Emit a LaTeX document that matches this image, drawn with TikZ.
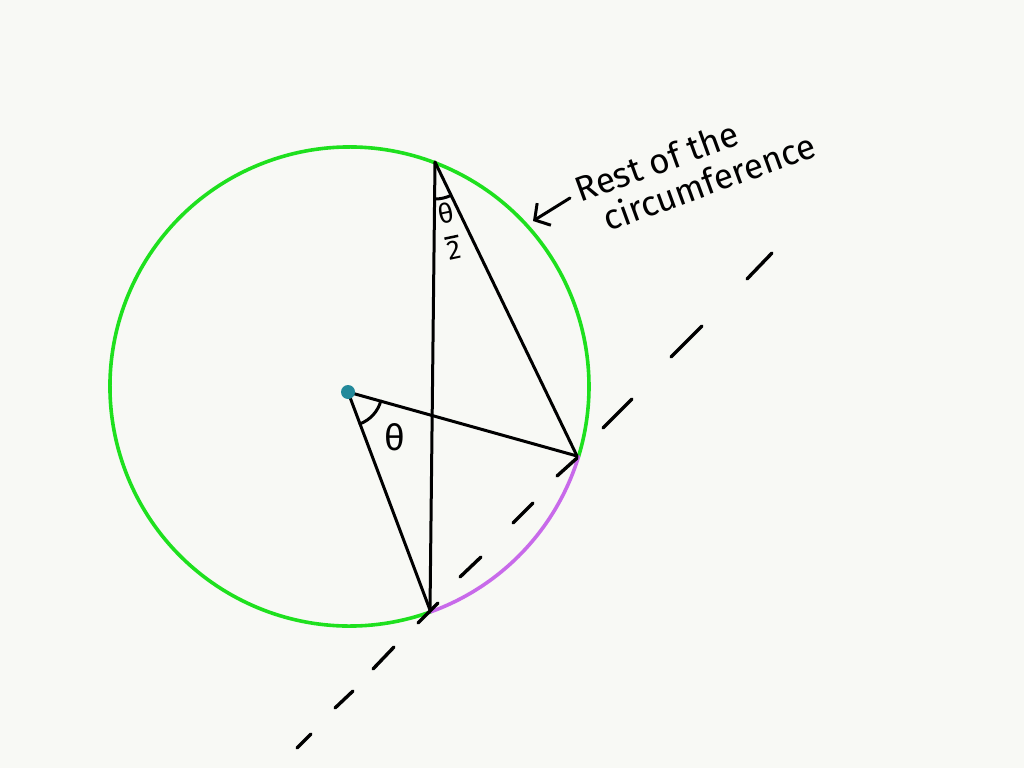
\documentclass[tikz,border=0pt]{standalone}
\usepackage{fontspec}
\setmainfont{Fira Sans}
\usetikzlibrary{arrows.meta}
\definecolor{bg}{HTML}{F8F9F5}
\definecolor{circgreen}{HTML}{1EE01E}
\definecolor{arcpurple}{HTML}{C86AEA}
\definecolor{dotteal}{HTML}{23899A}
\begin{document}
\begin{tikzpicture}[x=1pt,y=-1pt, line cap=round, line join=round,
  seg/.style={line width=3pt, black},
  dsh/.style={line width=3.4pt, black},
  circ/.style={line width=3.6pt},
  lbl/.style={font=\fontsize{35}{37}\selectfont, rotate=20, inner sep=0pt, align=left},
  ang/.style={font=\fontsize{36}{36}\selectfont, inner sep=0pt}]
\fill[bg] (0,0) rectangle (1024,768);
\useasboundingbox (0,0) rectangle (1024,768);
\coordinate (O) at (349.5,386.5);
\coordinate (P) at (348,392);
\coordinate (A) at (577,456);
\coordinate (B) at (430,610);
\coordinate (C) at (435,162);
% circle arcs
\draw[circ, circgreen] (O) ++(70.2:239.5) arc[start angle=70.2, end angle=377, radius=239.5];
\draw[circ, arcpurple] (O) ++(17:239.5) arc[start angle=17, end angle=70.2, radius=239.5];
% dashed chord line
\foreach \xa/\ya/\xb/\yb in {297/748/311/734, 335/708/353/691, 373/669/394/647, 418/623/438/603,
  460/577/481/557, 513/523/533/503, 557/476/577/458, 603/428/632/399, 671/357/702/326, 747/279/772/253}
  \draw[dsh] (\xa,\ya) -- (\xb,\yb);
% triangle lines
\draw[seg] (P) -- (A);
\draw[seg] (P) -- (B);
\draw[seg] (C) -- (B);
\draw[seg] (C) -- (A);
% angle arcs
\draw[seg] (P) ++(15.6:34) arc[start angle=15.6, end angle=69.4, radius=34];
\draw[seg] (C) ++(64.2:37) arc[start angle=64.2, end angle=90.6, radius=37];
\fill[dotteal] (P) circle[radius=7];
% angle labels
\node[ang] (th) at (395,437) {θ};
\node[inner sep=0pt, rotate=12, align=center, font=\fontsize{27}{27}\selectfont] (th2) at (450,231)
  {θ\\[-11pt]\rule{14pt}{2.5pt}\\[-6pt]2};
% annotation
\node[lbl] (note) at (695,167) {Rest of the\\\hspace*{16pt}circumference};
\coordinate (as) at (570,198);
\coordinate (ae) at (533,221);
\draw[seg, -{Straight Barb[length=11pt,width=26pt]}] (as) -- (ae);
\end{tikzpicture}
\end{document}
